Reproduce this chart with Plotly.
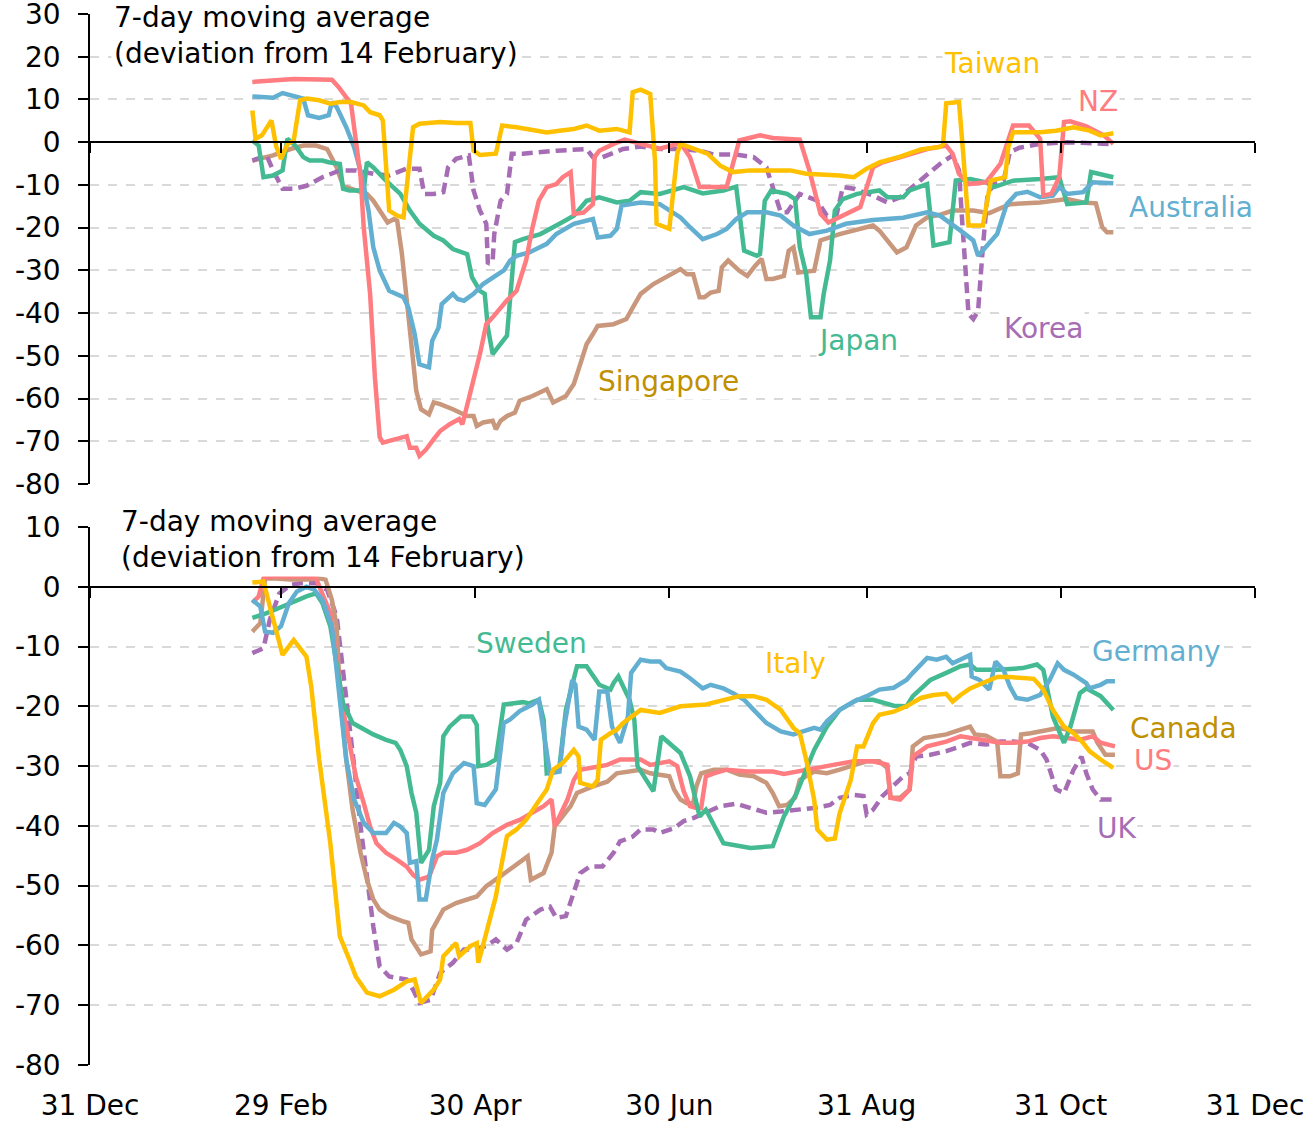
import numpy as np
import pandas as pd
import plotly.graph_objects as go

# ---------------- data (x = days since 31 Dec 2019, y = % deviation) ----------------
# Top panel
nz_day = [51, 64, 76, 78, 82, 83, 85, 86, 88, 89.5, 91, 92, 96, 99.5, 100.5, 102.5, 103.5, 105.5, 108, 110, 113, 116, 117,
          119.5, 122.5, 124.5, 126.5, 131, 134, 137, 139, 141, 143.5, 146.5, 148.5, 151, 152, 155, 158, 158.5, 160, 164.5, 168, 173,
          179, 185.5, 188.5, 191.5, 200, 204, 210.5, 214.5, 223, 226, 229.5, 232, 235.5, 242, 246, 249, 256.5, 263, 269, 271,
          273, 276, 281.5, 286, 290, 295, 298.5, 299.5, 302, 304.5, 306, 308, 313, 318.5, 321.5]
nz_val = [14.1, 14.8, 14.6, 13, 9, 3.5, -8, -20, -35.5, -55, -69, -70.3, -69.5, -68.8, -71.5, -71.5, -73.4, -72, -69.5, -67.6, -66, -64.8, -66,
          -59, -49.6, -42.6, -41, -37, -34.8, -27.7, -20, -13.7, -10.5, -9.8, -8.2, -7, -16.8, -16.5, -14.5, -3.5, -2, -0.4, 0.6, -0.4,
          -1.5, -0.2, -3.5, -10.5, -10.5, 0.4, 1.6, 1, 0.6, -6.6, -16.8, -18.8, -17.6, -15.2, -5.9, -4.7, -3.1, -1.6, -0.8, -2.7,
          -7.4, -9.8, -9.4, -5.1, 3.9, 3.9, 0.8, -12.5, -12.1, -8.2, 4.7, 4.9, 3.7, 1.6, -0.4]

aus_day = [51, 57.5, 60.5, 63, 67, 68.5, 72, 75, 76, 77.5, 80.5, 83, 85.5, 87.5, 89, 91, 94, 98.5, 100, 102, 103.5, 106.5, 107.5,
           109.5, 110.5, 114, 115.5, 117.5, 120.5, 123.5, 130, 132, 134, 138, 143.5, 146.5, 152, 158, 159.5, 163.5, 165.5, 167, 173,
           179, 185.5, 188.5, 192.5, 197, 200, 203, 206.5, 212.5, 217, 221, 226, 231.5, 237.5, 246, 255.5, 263, 267, 273.5,
           277.5, 279, 282.5, 285, 288, 291, 294.5, 298.5, 302.5, 304.5, 307, 312, 315, 321.5]
aus_val = [10.7, 10.4, 11.5, 10.9, 10.2, 6.3, 5.7, 6.3, 9.4, 8.2, 3.5, -1.2, -8.2, -16, -24.6, -30, -34.8, -36.3, -38.7, -44.9, -52, -52.7, -46.5,
           -43.4, -37.9, -35.5, -36.7, -37.1, -35.5, -33.2, -30, -27.7, -26.6, -25.8, -23.8, -21.5, -19.1, -18, -22.3, -21.9, -20.3, -14.8, -14.1,
           -14.5, -17.6, -19.9, -22.7, -21.5, -20.3, -18, -16.4, -16.4, -17.2, -19.5, -21.5, -20.7, -19.1, -18.2, -17.7, -16.4, -17.2, -20.7,
           -23, -26.6, -23.4, -21.5, -14.5, -12.1, -11.6, -12.9, -12.5, -10.5, -12.1, -11.7, -9.4, -9.6]

twn_day = [51, 52, 54, 57, 58.5, 60, 62, 64, 66, 68, 72, 75.5, 78.5, 82, 86, 88, 91, 92, 94, 96.5, 98.5, 100, 101.5, 103.5,
           110, 115, 119.5, 120.5, 122.5, 127.5, 129.5, 134, 138, 143.5, 147.5, 152, 156, 160, 165.5, 169.5, 170.5, 173,
           176, 177.5, 178, 182, 184.5, 185.5, 194, 198, 202, 207.5, 220, 225, 235.5, 240, 244, 248, 254.5, 261, 267, 268,
           269, 273, 274.5, 276, 280.5, 283, 287.5, 288.5, 290, 298.5, 303.5, 309, 314, 317.5, 321.5]
twn_val = [7.4, 0.8, 1.6, 5.1, -1, -3.9, -0.5, 0.4, 9.8, 10.2, 9.8, 9, 9.4, 9.4, 8.6, 7, 6.3, 5.1, -16, -17.2, -17.6, -7.4, 3.5, 4.3,
           4.7, 4.5, 4.5, -2, -3, -2.7, 3.9, 3.5, 3.1, 2.3, 2.7, 3.1, 3.9, 2.7, 3.1, 2.3, 11.7, 12.3,
           11.3, -4.3, -19.1, -20.3, -2.7, -0.4, -2.7, -5.5, -7, -6.6, -6.6, -7.4, -7.8, -8.2, -6.2, -4.7, -3.4, -1.7, -1.1, -0.5,
           9.1, 9.4, -4.3, -19.5, -19.5, -9, -8.2, -1.2, 2.3, 2.3, 2.7, 3.5, 2.7, 1.6, 2.1]

jpn_day = [51, 53, 54.5, 57.5, 60.5, 62, 64.5, 67, 69, 73, 75, 78.5, 79.5, 81.5, 86, 87, 89, 93, 97.5, 100.5, 103.5, 108, 111,
           114, 118.5, 120, 122.5, 124, 125, 126.5, 131, 132, 133.5, 136, 141.5, 147.5, 152, 156, 160, 165.5, 169.5, 173,
           179, 186.5, 192.5, 199, 203, 205.5, 209.5, 210.5, 212, 214, 219, 221.5, 223, 225, 226.5, 229.5, 230.5, 232.5, 234,
           236.5, 241, 248, 250.5, 255.5, 257.5, 263, 265, 270, 272, 276.5, 281.5, 284, 290, 298.5, 304.5, 307, 313, 314.5, 318.5, 321.5]
jpn_val = [0.4, -0.8, -8.2, -7.8, -6.6, 0.8, -0.8, -3.5, -4.3, -4.3, -4.7, -5.1, -10.9, -11.3, -11.3, -4.7, -5.9, -9, -12.1, -16, -19.1, -21.9, -23,
           -25, -26.2, -31.6, -34.8, -35.5, -43.4, -49.6, -45.3, -37.1, -23.4, -22.7, -21.5, -19.1, -17.2, -13.7, -12.9, -14.1, -13.7, -11.7,
           -12.1, -10.5, -12, -11.3, -10.4, -25.4, -26.6, -26.2, -13.7, -11.3, -12.1, -13.3, -24.6, -30.9, -41, -41, -35.5, -27.7, -16,
           -13.3, -12.1, -11.3, -12.9, -12.9, -11.3, -9.8, -24.2, -23.4, -9, -8.6, -9.4, -10.5, -9, -8.6, -8.2, -14.5, -14.1, -7, -7.8, -8.2]

kor_day = [51, 55.5, 57.5, 60.5, 64, 68, 73, 78.5, 83.5, 89, 94, 99.5, 103.5, 105, 108, 111, 112.5, 115, 119, 120.5, 122.5, 124.5,
           125, 126.5, 127, 129, 131, 132.5, 136, 141.5, 146.5, 156, 158, 161, 167.5, 173,
           179, 185.5, 191.5, 196, 203, 208.5, 212.5, 217, 219, 223, 228.5, 231.5, 234.5, 236.5, 240, 246, 250.5, 254.5, 258.5,
           263, 267, 271, 273, 274, 276, 277.5, 279, 280.5, 282, 284, 287, 289, 292, 298.5, 307, 313, 321.5]
kor_val = [-4.3, -3.1, -6.6, -10.9, -10.9, -10.2, -8.2, -6.6, -6.6, -7.4, -7.8, -6.2, -6.2, -12.1, -12.1, -11.7, -5.9, -3.9, -3.1, -11.3, -16, -19.1,
           -28.5, -27.7, -21.5, -13.7, -12.1, -2.7, -2.7, -2.3, -2, -1.6, -3.5, -3.5, -1.6, -1,
           -1.6, -1.6, -2, -2.9, -2.9, -3.5, -5.9, -16.4, -16.4, -12.1, -13.7, -17.2, -17.2, -10.5, -10.9, -12.5, -14.1, -12.9, -10.5,
           -7.8, -5.1, -3.1, -6.6, -18.4, -40.2, -41.4, -39.5, -24.6, -12.1, -9.8, -9, -2.3, -1.3, -0.4, 0, -0.2, -0.5]

sgp_day = [51, 57.5, 63, 67, 71, 74.5, 77.5, 79.5, 83.5, 87, 89, 92, 93.5, 95.5, 96.5, 98, 99.5, 101, 102.5, 104, 106.5, 108, 110,
           114, 118.5, 120.5, 121.5, 123.5, 126.5, 127.5, 129, 131, 133.5, 135, 139, 143.5, 145.5, 149.5, 152, 154, 156, 158, 159.5,
           164.5, 168.5, 170.5, 173, 177, 181, 185.5, 187.5, 189.5, 191.5, 193, 195, 197.5, 198.5, 200.5, 204, 206.5, 209, 211,
           212.5, 214.5, 218, 219.5, 221, 222.5, 227.5, 229.5, 235.5, 242, 246, 248, 253.5, 256.5, 259.5, 263, 267, 271, 277.5,
           282.5, 289, 298.5, 307, 312, 316, 318, 319.5, 321.5]
sgp_val = [-4.3, -3.1, -1.6, -0.8, -0.8, -1.6, -5.9, -10.2, -11.3, -12.1, -13.7, -16.8, -18.8, -18, -18.4, -26.2, -37.1, -48.8, -58.2, -62.5, -63.7, -60.9, -61.3,
           -62.5, -64.1, -64.1, -66.4, -65.6, -65.2, -67.2, -65.2, -64.1, -63.3, -60.5, -59.4, -57.8, -60.9, -59.4, -56.6, -52, -47.3, -44.9, -43,
           -42.6, -41.4, -38.7, -35.5, -33.2, -31.6, -29.7, -30.9, -30.9, -36.3, -36.3, -35.2, -34.8, -29.3, -27.7, -30.1, -31.3, -28.9, -27.3,
           -32, -32, -31.3, -25.4, -24.6, -30.5, -30.1, -23, -21.5, -20.3, -19.5, -20.7, -25.8, -24.6, -19.5, -17.6, -17, -16, -16,
           -16.6, -14.5, -14.1, -13.3, -14.1, -14.3, -19.9, -21.1, -21.1]

# Bottom panel
swe_day = [51, 55.5, 60.5, 65, 68, 71, 73, 75.5, 77.5, 79.5, 82.5, 86, 89, 93, 96, 97.5, 99.5, 101, 102.5, 104, 106.5, 108, 110,
           111, 113, 116.5, 120, 121.5, 122, 124.5, 127.5, 130, 133, 136, 138, 141, 142.5, 143.5, 146.5, 147.5, 149.5, 152, 153,
           156, 158, 160, 163.5, 164.5, 166, 167.5, 169.5, 171, 172, 177, 179.5, 185.5, 188.5, 191.5, 193.5, 199, 207.5, 214.5,
           218, 222, 227.5, 231.5, 235.5, 241, 246, 252.5, 256.5, 258.5, 264, 269, 273.5, 276.5, 278.5, 285, 293, 297.5, 299.5,
           302.5, 306, 308, 311, 313, 317.5, 321.5]
swe_val = [-5.2, -4.4, -3.3, -2.2, -1.6, -1.1, -2.7, -6.6, -12.8, -19.5, -22.8, -23.9, -24.7, -25.6, -26.1, -27.3, -30, -34.5, -37.8, -46.2, -44, -36.7, -32.8,
           -25, -23.4, -21.7, -21.7, -23.1, -30, -29.8, -28.9, -19.7, -19.5, -19.3, -19.5, -18.9, -22.2, -31.2, -30.9, -30, -20.6, -15, -13.3,
           -13.3, -15, -16.4, -17.2, -16.1, -15, -16.7, -18.9, -22.2, -30, -34.2, -25, -27.8, -31.7, -38.4, -37.3, -42.9, -43.7, -43.4,
           -38.4, -34.5, -27.3, -23.4, -20.6, -18.9, -18.9, -19.9, -20, -18.3, -15.6, -14.4, -13.3, -13, -13.9, -13.9, -13.6, -13, -13.9,
           -21.7, -26.1, -23.4, -17.8, -17, -18.3, -20.6]

deu_day = [51, 53.5, 55, 57.5, 60, 62.5, 65, 68, 70.5, 73, 76, 78.5, 80.5, 83, 86, 89, 93, 95.5, 97.5, 99.5, 100.5, 102.5, 103.5,
           105.5, 107.5, 109, 110, 111, 114, 117.5, 120.5, 121.5, 124, 127.5, 130, 132, 135, 139, 141, 144.5, 147.5, 149, 151.5,
           152.5, 153.5, 156, 158.5, 160, 162.5, 164, 166.5, 169, 170, 173, 176, 179, 181, 185.5, 188.5, 192.5, 195, 199, 202,
           205.5, 208.5, 212.5, 217, 221, 224, 227.5, 229.5, 231.5, 235.5, 240, 244, 248, 252.5, 256.5, 258.5, 263, 266, 269, 271,
           276.5, 277, 279.5, 282.5, 284.5, 287, 289, 291, 294.5, 298.5, 301.5, 304, 306, 309, 313, 314, 317.5, 319.5, 322]
deu_val = [-2.2, -3.3, -7.5, -7.7, -6.6, -2.7, -0.8, 0, -0.5, -2.2, -6.6, -18.9, -28.9, -35.6, -39.5, -41.2, -41.2, -39.5, -40.1, -41.2, -46.2, -45.9, -52.3,
           -52.3, -45.6, -42.3, -37.8, -34.5, -31.2, -29.5, -30, -36.2, -36.5, -33.9, -22.8, -22.2, -20.8, -19.7, -18.9, -31.2, -30.9, -23.4, -15.6,
           -16.4, -23.4, -23.9, -25.6, -17.5, -17.5, -23.4, -26.1, -21.7, -14.4, -12.2, -12.5, -12.5, -13.6, -14.2, -15.3, -17, -16.4, -17, -17.8,
           -18.9, -20.6, -22.8, -24.2, -24.7, -24.2, -23.6, -23.9, -22.5, -20.6, -19.2, -18.3, -17.2, -16.9, -15.6, -14.4, -11.9, -12.2, -11.7, -12.8,
           -11.4, -15, -15.6, -17.2, -12.5, -13.9, -16.7, -18.6, -18.9, -18.1, -15.6, -12.8, -13.9, -14.7, -16.1, -17, -16.4, -15.8, -15.8]

ita_day = [51, 54.5, 56.5, 58.5, 60.5, 64, 68, 69.5, 72, 75.5, 78.5, 81.5, 83.5, 87, 91, 95.5, 99.5, 102, 104, 108, 110, 111, 115,
           116, 119.5, 121.5, 122, 124.5, 127.5, 129, 131, 134, 137, 140.5, 143.5, 145.5, 148.5, 152, 153.5, 154, 158, 159.5, 160.5,
           163.5, 165.5, 167.5, 170.5, 173, 179, 185.5, 193.5, 199, 204, 208.5, 212.5, 217, 221, 223, 225, 227.5, 228.5, 231.5,
           234, 235.5, 239, 241, 243, 246, 248, 252.5, 256.5, 261, 265, 269, 271, 273.5, 276.5, 280.5, 285, 289, 293, 296.5,
           299.5, 302.5, 306, 309, 312, 314, 317.5, 321.5]
ita_val = [0.7, 0.9, -3.3, -7.2, -11.4, -8.9, -11.7, -16.7, -28.9, -42.9, -58.5, -62.4, -65.2, -67.9, -68.5, -67.4, -66, -65.7, -69.6, -67.4, -65.7, -61.8, -59.6,
           -61.8, -60.1, -59.6, -62.9, -57.9, -51.8, -47.3, -41.7, -40.6, -39, -36.2, -33.9, -30.6, -29.5, -27.3, -28.4, -32.8, -33.4, -32.3, -25.6,
           -24.5, -23.9, -22.8, -21.7, -20.6, -21.1, -20, -19.7, -18.9, -18.3, -18.3, -18.9, -20.6, -23.6, -24.5, -28.9, -35.6, -40.6, -42.3,
           -42.1, -37.9, -32.3, -26.7, -26.7, -22.8, -21.4, -20.9, -20, -18.6, -18.1, -17.9, -19.2, -18.1, -17, -16.1, -15.1, -15.1, -15.3, -15.4,
           -17.2, -20.6, -23.4, -24.5, -26.1, -27.5, -28.9, -30.3]

usa_day = [51, 53, 54.5, 57.5, 63, 68, 71, 73, 75.5, 77.5, 79.5, 81.5, 83.5, 86, 88, 90, 93, 96.5, 99.5, 101.5, 103.5, 106.5, 109,
           111, 115, 118.5, 122.5, 126.5, 131, 135, 139, 142.5, 145, 146, 150, 152, 154, 158, 162.5, 166.5, 170.5, 173, 176, 179,
           182, 184.5, 186.5, 188.5, 190.5, 192, 193.5, 196, 200, 206.5, 214.5, 218, 223, 228.5, 233.5, 240, 246, 250.5, 251.5,
           254.5, 257.5, 258.5, 263, 269, 273.5, 277.5, 281.5, 286, 290, 294.5, 298.5, 302.5, 307, 311, 315, 317.5, 322]
usa_val = [-2.7, -1.6, 1.4, 1.7, 1.7, 1.7, 1.4, -1.1, -4.4, -12.2, -20.6, -26.1, -31.7, -36.2, -40.1, -42.9, -44.5, -45.7, -46.8, -48.2, -49, -48.5, -45.1,
           -44.5, -44.5, -44, -42.9, -41.2, -39.8, -39, -37.8, -36.7, -35.6, -40.1, -35.6, -32.3, -30.6, -30.3, -29.8, -28.9, -28.9, -28.9, -29.8, -29.5,
           -29.2, -30, -34.2, -36.7, -37, -37, -31.7, -31.2, -30.6, -30.9, -30.9, -31.3, -30.9, -30.3, -29.8, -29.2, -29.2, -29.8, -35.3,
           -35.6, -33.9, -28.4, -26.7, -25.9, -25, -25.3, -25.6, -26.1, -26.1, -25.9, -25.3, -25, -25.3, -25.6, -25, -26.1, -26.7]

can_day = [51, 53.5, 55, 58.5, 63, 68, 72, 74, 76, 77.5, 78.5, 80.5, 82.5, 85, 87, 89, 91, 94, 98.5, 100, 101, 103, 104, 107,
           107.5, 111, 115, 121.5, 124.5, 129, 133, 137.5, 138.5, 142.5, 145, 146, 151, 153, 158, 162.5, 165.5, 173, 176, 179,
           182, 183.5, 185.5, 187.5, 189.5, 190.5, 192, 196, 200, 204, 208.5, 212.5, 214.5, 216.5, 219, 221.5, 223, 227.5, 231.5,
           235.5, 240, 244, 248, 250.5, 251.5, 254.5, 257.5, 258.5, 262, 265, 269, 273.5, 276.5, 278, 281.5, 285, 286, 289,
           291.5, 292.5, 295.5, 304.5, 309, 315, 316.5, 319, 322]
can_val = [-7.5, -6.1, 1.4, 1.4, 1.2, 1.2, 1.4, 1.2, -2.2, -6.6, -17.8, -28.9, -37.3, -44.5, -49, -52.3, -54, -55.1, -56, -56.2, -59, -60.7, -61.5, -61,
           -57.4, -54, -52.9, -51.8, -50.1, -48.4, -46.8, -45.1, -49, -47.9, -44.5, -40.1, -36.7, -34.5, -33.4, -32.6, -31.2, -30.6, -31.2, -31.4,
           -31.7, -33.9, -35.6, -36.2, -36.2, -33.4, -31.2, -30.6, -30.6, -31.4, -31.7, -32.8, -34.5, -36.7, -36.5, -35.3, -32.3, -30.9, -31.2,
           -30.6, -29.8, -29.2, -29.2, -30.3, -35.3, -35.3, -33.9, -26.7, -25.3, -25, -24.7, -23.9, -23.4, -24.7, -24.9, -25.9, -31.7, -31.7,
           -31.2, -24.7, -24.5, -23.6, -24.2, -24.2, -26.1, -28.1, -28.1]

gbr_day = [51, 54.5, 56.5, 59.5, 63, 66, 71, 74.5, 77.5, 79.5, 81.5, 83, 85, 87, 89, 91, 94, 99.5, 101.5, 103.5, 107, 110, 114,
           117.5, 120.5, 124.5, 127.5, 131, 134, 137, 141.5, 144.5, 146.5, 149.5, 152, 154, 157, 161, 164.5, 166.5, 170.5, 173,
           177, 179, 183.5, 186.5, 189.5, 193.5, 198, 203, 207.5, 212.5, 217, 222, 227.5, 232.5, 235.5, 240, 243, 244, 246, 249,
           252.5, 255.5, 257.5, 259.5, 264, 269, 273.5, 276.5, 281.5, 286, 290, 294.5, 298.5, 300.5, 303.5, 306, 309, 311.5, 313,
           315, 317.5, 321.5]
gbr_val = [-11.1, -10.3, -5.5, -1.1, 0.3, 0.6, 0.6, -0.5, -5, -13.9, -22.2, -30, -40.1, -48.4, -56.8, -63.5, -65.2, -65.7, -67.4, -69.6, -69.1, -64.6, -62.9,
           -60.7, -60.7, -60.1, -59, -60.7, -59.6, -55.7, -54, -53.5, -55.4, -55.1, -51.2, -47.9, -46.8, -46.8, -44.5, -42.6, -41.8, -40.6,
           -40.6, -41.2, -40.4, -39.2, -38.7, -37.8, -36.7, -36.3, -37, -37.8, -37.6, -37.3, -37, -36.5, -35.3, -34.8, -35, -38.1, -37.3, -35,
           -33.1, -31.7, -31.2, -28.4, -28.1, -27.5, -26.7, -26.1, -26.4, -25.9, -25.9, -26.1, -27.3, -28.9, -33.9, -34.5, -30.6, -28.4, -31.2,
           -33.9, -35.6, -35.6]

tick_dates = ["2019-12-31", "2020-02-29", "2020-04-30", "2020-06-30", "2020-08-31", "2020-10-31", "2020-12-31"]
tick_text = ["31 Dec", "29 Feb", "30 Apr", "30 Jun", "31 Aug", "31 Oct", "31 Dec"]
top_yticks = [30, 20, 10, 0, -10, -20, -30, -40, -50, -60, -70, -80]
bot_yticks = [10, 0, -10, -20, -30, -40, -50, -60, -70, -80]
title_text = "7-day moving average<br>(deviation from 14 February)"

# ---------------- styling ----------------
FONT = "DejaVu Sans"
FS = 28
LW = 4.5
SALMON, BLUE, YELLOW, GREEN = "#FF7C80", "#62AFD1", "#FFC000", "#44BA92"
PURPLE, TAN, GOLD = "#A66DB5", "#C9977B", "#BF9000"
BASE = pd.Timestamp("2019-12-31")


def to_dates(days):
    return BASE + pd.to_timedelta(np.asarray(days, dtype=float), unit="D")


top_series = [
    ("Singapore", sgp_day, sgp_val, TAN, "solid"),
    ("Korea", kor_day, kor_val, PURPLE, "11px,6px"),
    ("Japan", jpn_day, jpn_val, GREEN, "solid"),
    ("Australia", aus_day, aus_val, BLUE, "solid"),
    ("NZ", nz_day, nz_val, SALMON, "solid"),
    ("Taiwan", twn_day, twn_val, YELLOW, "solid"),
]
bot_series = [
    ("UK", gbr_day, gbr_val, PURPLE, "11px,6px"),
    ("Canada", can_day, can_val, TAN, "solid"),
    ("US", usa_day, usa_val, SALMON, "solid"),
    ("Sweden", swe_day, swe_val, GREEN, "solid"),
    ("Germany", deu_day, deu_val, BLUE, "solid"),
    ("Italy", ita_day, ita_val, YELLOW, "solid"),
]

fig = go.Figure()
for name, d, v, c, dash in top_series:
    fig.add_trace(go.Scatter(x=to_dates(d), y=v, mode="lines", name=name, xaxis="x", yaxis="y",
                             line=dict(color=c, width=LW, dash=dash), showlegend=False))
for name, d, v, c, dash in bot_series:
    fig.add_trace(go.Scatter(x=to_dates(d), y=v, mode="lines", name=name, xaxis="x2", yaxis="y2",
                             line=dict(color=c, width=LW, dash=dash), showlegend=False))
# carrier for the bottom date-label axis
fig.add_trace(go.Scatter(x=[tick_dates[0]], y=[None], xaxis="x3", yaxis="y2", mode="lines",
                         showlegend=False, hoverinfo="skip"))

TOP_DOM = [0.5528, 1.0]
BOT_DOM = [0.0, 0.5119]
TOP_RANGE = [-80, 30]
BOT_RANGE = [-80, 10]


def zero_pos(dom, rng):
    return dom[0] + (0 - rng[0]) / (rng[1] - rng[0]) * (dom[1] - dom[0])


xr = [tick_dates[0], tick_dates[-1]]
xcommon = dict(range=xr, type="date", tickvals=tick_dates, showgrid=False, zeroline=False,
               showline=True, linecolor="black", linewidth=1.5, ticks="outside", ticklen=10,
               tickwidth=1.5, tickcolor="black", showticklabels=False, domain=[0, 1], automargin=False)
ycommon = dict(showgrid=True, gridcolor="#D9D9D9", griddash="dash", gridwidth=1.5,
               zeroline=False, showline=True, linecolor="black", linewidth=1.5, ticks="outside",
               ticklen=10, tickwidth=1.5, tickcolor="black", ticklabelstandoff=12, automargin=False,
               ticklabeloverflow="allow", tickfont=dict(family=FONT, size=FS, color="black"))

fig.update_layout(
    width=1308, height=1127,
    margin=dict(l=90, r=53, t=14, b=62, pad=0, autoexpand=False),
    paper_bgcolor="white", plot_bgcolor="white",
    font=dict(family=FONT, size=FS, color="black"),
    xaxis=dict(**xcommon, anchor="free", position=zero_pos(TOP_DOM, TOP_RANGE)),
    xaxis2=dict(**xcommon, anchor="free", position=zero_pos(BOT_DOM, BOT_RANGE)),
    xaxis3=dict(range=xr, type="date", tickvals=tick_dates, ticktext=tick_text, overlaying="x2",
                anchor="y2", side="bottom", showgrid=False, zeroline=False, showline=False,
                ticks="outside", ticklen=15, tickcolor="rgba(0,0,0,0)", automargin=False,
                ticklabeloverflow="allow", tickfont=dict(family=FONT, size=FS, color="black")),
    yaxis=dict(**ycommon, range=TOP_RANGE, tickvals=top_yticks,
               ticktext=[str(t) for t in top_yticks], domain=TOP_DOM, anchor="x"),
    yaxis2=dict(**ycommon, range=BOT_RANGE, tickvals=bot_yticks,
                ticktext=[str(t) for t in bot_yticks], domain=BOT_DOM, anchor="x2"),
)

# titles inside each panel
ann = []
ann.append(dict(text=title_text, xref="paper", yref="paper", x=0.018, y=1.0155, xanchor="left",
                yanchor="top", align="left", showarrow=False, bgcolor="white", borderpad=2,
                font=dict(family=FONT, size=FS, color="black")))
ann.append(dict(text=title_text, xref="paper", yref="paper", x=0.0238, y=0.536, xanchor="left",
                yanchor="top", align="left", showarrow=False, bgcolor="white", borderpad=2,
                font=dict(family=FONT, size=FS, color="black")))

# series labels: (text, day, value, colour, panel)
labels = [
    ("Taiwan", 283.4, 18.3, YELLOW, 1), ("NZ", 316.7, 9.6, SALMON, 1),
    ("Australia", 345.9, -15.2, BLUE, 1), ("Korea", 299.4, -43.6, PURPLE, 1),
    ("Japan", 241.3, -46.4, GREEN, 1), ("Singapore", 181.6, -56.0, GOLD, 1),
    ("Sweden", 138.6, -9.5, GREEN, 2), ("Italy", 221.5, -12.9, YELLOW, 2),
    ("Germany", 335.2, -10.9, BLUE, 2), ("Canada", 343.4, -23.7, GOLD, 2),
    ("US", 334.0, -29.1, SALMON, 2), ("UK", 322.6, -40.5, PURPLE, 2),
]
for text, d, v, c, p in labels:
    ann.append(dict(text=text, x=to_dates([d])[0], y=v, xref="x" if p == 1 else "x2",
                    yref="y" if p == 1 else "y2", showarrow=False, xanchor="center", yanchor="middle",
                    bgcolor="white", borderpad=1, font=dict(family=FONT, size=FS, color=c)))
fig.update_layout(annotations=ann)

# remove the default 8px page margin so the figure sits at the window's top-left corner
fig.write_html("out.html", config={"displayModeBar": False},
               post_script="document.body.style.margin='0';")
